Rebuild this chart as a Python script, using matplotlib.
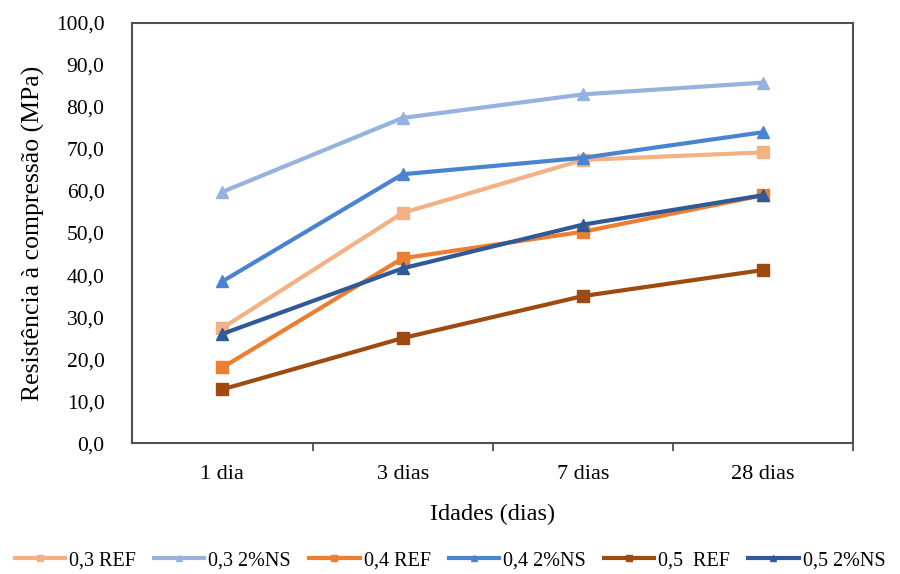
import matplotlib
matplotlib.use("Agg")
import matplotlib.pyplot as plt
from matplotlib.ticker import FuncFormatter, FixedLocator

plt.rcParams['font.family'] = ['Liberation Serif', 'DejaVu Serif']

categories = ["1 dia", "3 dias", "7 dias", "28 dias"]
ref_03 = [27.4, 54.8, 67.4, 69.2]
ns_03 = [59.8, 77.4, 83.0, 85.8]
ref_04 = [18.0, 44.0, 50.3, 59.0]
ns_04 = [38.5, 64.0, 67.9, 74.0]
ref_05 = [12.8, 25.0, 35.0, 41.2]
ns_05 = [26.0, 41.6, 52.0, 59.0]
labels = ["0,3 REF", "0,3 2%NS", "0,4 REF", "0,4 2%NS", "0,5  REF", "0,5 2%NS"]

series = [ref_03, ns_03, ref_04, ns_04, ref_05, ns_05]
colors = ["#F4B183", "#95B3DE", "#ED7D31", "#4A84D0", "#9E4A10", "#2F5A96"]
markers = ["s", "^", "s", "^", "s", "^"]

fig = plt.figure(figsize=(9, 5.74), dpi=100)
ax = fig.add_axes([0.147, 0.228, 0.801, 0.732])
x = list(range(len(categories)))
for vals, c, m, lab in zip(series, colors, markers, labels):
    ax.plot(x, vals, color=c, marker=m, markersize=9, linewidth=3, label=lab)

ax.set_xlim(-0.5, len(categories) - 0.5)
ax.set_ylim(0, 100)
ax.set_yticks([i * 10 for i in range(11)])
ax.yaxis.set_major_formatter(FuncFormatter(lambda v, p: f"{v:.1f}".replace(".", ",")))
ax.set_xticks(x)
ax.set_xticklabels(categories)
ax.xaxis.set_minor_locator(FixedLocator([0.5, 1.5, 2.5, 3.5]))
ax.tick_params(axis='x', which='major', length=0, pad=16, labelsize=16)
ax.tick_params(axis='x', which='minor', length=6, width=1.2, color="#404040")
ax.tick_params(axis='y', length=0, pad=20, labelsize=15.5)
for s in ax.spines.values():
    s.set_color("#505050")
    s.set_linewidth(1.5)
ax.set_xlabel("Idades (dias)", fontsize=17.5, labelpad=14)
ax.set_ylabel("Resistência à compressão (MPa)", fontsize=18.5, labelpad=8)

fig.legend(loc="lower center", ncol=6, bbox_to_anchor=(0.5, -0.025), frameon=False,
           fontsize=14.5, handlelength=2.5, handletextpad=0.2, columnspacing=0.9,
           markerscale=0.55)
fig.savefig("out.png", dpi=100)
